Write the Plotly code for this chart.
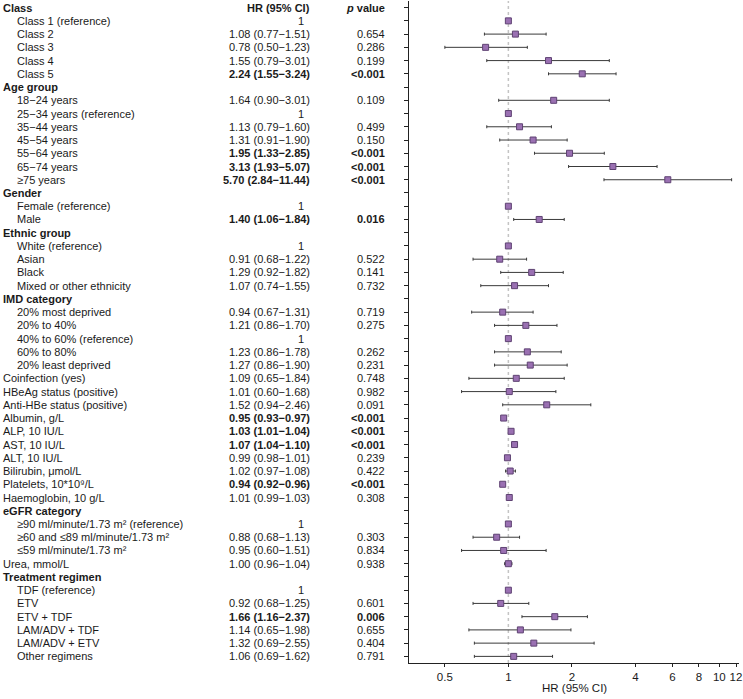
import math
import plotly.graph_objects as go

# ---------------- data ----------------
labels = [
    "Class", "Class 1 (reference)", "Class 2", "Class 3", "Class 4", "Class 5",
    "Age group", "18−24 years", "25−34 years (reference)", "35−44 years", "45−54 years",
    "55−64 years", "65−74 years", "≥75 years",
    "Gender", "Female (reference)", "Male",
    "Ethnic group", "White (reference)", "Asian", "Black", "Mixed or other ethnicity",
    "IMD category", "20% most deprived", "20% to 40%", "40% to 60% (reference)", "60% to 80%",
    "20% least deprived",
    "Coinfection (yes)", "HBeAg status (positive)", "Anti-HBe status (positive)",
    "Albumin, g/L", "ALP, 10 IU/L", "AST, 10 IU/L", "ALT, 10 IU/L", "Bilirubin, μmol/L",
    "Platelets, 10*10⁹/L", "Haemoglobin, 10 g/L",
    "eGFR category", "≥90 ml/minute/1.73 m² (reference)", "≥60 and ≤89 ml/minute/1.73 m²",
    "≤59 ml/minute/1.73 m²", "Urea, mmol/L",
    "Treatment regimen", "TDF (reference)", "ETV", "ETV + TDF", "LAM/ADV + TDF",
    "LAM/ADV + ETV", "Other regimens",
]
# row kind: h = header, i = indented item, n = non-indented item
kinds = [
    "h", "i", "i", "i", "i", "i",
    "h", "i", "i", "i", "i", "i", "i", "i",
    "h", "i", "i",
    "h", "i", "i", "i", "i",
    "h", "i", "i", "i", "i", "i",
    "n", "n", "n", "n", "n", "n", "n", "n", "n", "n",
    "h", "i", "i", "i", "n",
    "h", "i", "i", "i", "i", "i", "i",
]
hr = [
    None, 1, 1.08, 0.78, 1.55, 2.24,
    None, 1.64, 1, 1.13, 1.31, 1.95, 3.13, 5.70,
    None, 1, 1.40,
    None, 1, 0.91, 1.29, 1.07,
    None, 0.94, 1.21, 1, 1.23, 1.27,
    1.09, 1.01, 1.52, 0.95, 1.03, 1.07, 0.99, 1.02, 0.94, 1.01,
    None, 1, 0.88, 0.95, 1.00,
    None, 1, 0.92, 1.66, 1.14, 1.32, 1.06,
]
ci_lo = [
    None, None, 0.77, 0.50, 0.79, 1.55,
    None, 0.90, None, 0.79, 0.91, 1.33, 1.93, 2.84,
    None, None, 1.06,
    None, None, 0.68, 0.92, 0.74,
    None, 0.67, 0.86, None, 0.86, 0.86,
    0.65, 0.60, 0.94, 0.93, 1.01, 1.04, 0.98, 0.97, 0.92, 0.99,
    None, None, 0.68, 0.60, 0.96,
    None, None, 0.68, 1.16, 0.65, 0.69, 0.69,
]
ci_hi = [
    None, None, 1.51, 1.23, 3.01, 3.24,
    None, 3.01, None, 1.60, 1.90, 2.85, 5.07, 11.44,
    None, None, 1.84,
    None, None, 1.22, 1.82, 1.55,
    None, 1.31, 1.70, None, 1.78, 1.90,
    1.84, 1.68, 2.46, 0.97, 1.04, 1.10, 1.01, 1.08, 0.96, 1.03,
    None, None, 1.13, 1.51, 1.04,
    None, None, 1.25, 2.37, 1.98, 2.55, 1.62,
]
p_values = [
    "", "", "0.654", "0.286", "0.199", "<0.001",
    "", "0.109", "", "0.499", "0.150", "<0.001", "<0.001", "<0.001",
    "", "", "0.016",
    "", "", "0.522", "0.141", "0.732",
    "", "0.719", "0.275", "", "0.262", "0.231",
    "0.748", "0.982", "0.091", "<0.001", "<0.001", "<0.001", "0.239", "0.422", "<0.001", "0.308",
    "", "", "0.303", "0.834", "0.938",
    "", "", "0.601", "0.006", "0.655", "0.404", "0.791",
]
x_ticks = [0.5, 1, 2, 4, 6, 8, 10, 12]
x_tick_text = ["0.5", "1", "2", "4", "6", "8", "10", "12"]

# ---------------- layout geometry ----------------
W, H = 743, 699
ML, MR, MT, MB = 409, 4, 1, 36
PW = W - ML - MR
PH = H - MT - MB
FONT = "Liberation Sans, Arial, sans-serif"
TXT = "#1a1a1a"

def px_to_paper(px):
    return (px - ML) / PW

def py_to_paper(py):
    return (H - MB - py) / PH

n = len(labels)
rows = list(range(1, n + 1))

fig = go.Figure()

# error bars + markers for rows with an estimate
xs, ys, ep, em = [], [], [], []
for r, h, lo, hi in zip(rows, hr, ci_lo, ci_hi):
    if h is None:
        continue
    xs.append(h)
    ys.append(r)
    ep.append((hi - h) if hi is not None else 0)
    em.append((h - lo) if lo is not None else 0)

fig.add_trace(go.Scatter(
    x=xs, y=ys, mode="markers",
    marker=dict(symbol="square", size=6, color="#9a70b2",
                line=dict(color="#5e4272", width=1)),
    error_x=dict(type="data", symmetric=False, array=ep, arrayminus=em,
                 color="#3a3a3a", thickness=1, width=1.5),
    hoverinfo="skip", showlegend=False,
))

# reference dashed line at HR = 1
fig.add_shape(type="line", xref="x", yref="paper", x0=1, x1=1, y0=0, y1=1,
              line=dict(color="#c4c4c4", width=1.5, dash="3px,3px"), layer="below")

annotations = []
def add_text(px, row, text, anchor, bold=False):
    t = f"<b>{text}</b>" if bold else text
    annotations.append(dict(
        xref="paper", yref="y", x=px_to_paper(px), y=row, text=t,
        xanchor=anchor, yanchor="middle", showarrow=False,
        font=dict(family=FONT, size=11, color=TXT),
    ))

# column headers on first row
add_text(312, 1, "HR (95% CI)", "right", bold=True)
add_text(387, 1, "<i>p</i> value", "right", bold=True)

for r, lab, k, h, lo, hi, p in zip(rows, labels, kinds, hr, ci_lo, ci_hi, p_values):
    sig = p.startswith("<") or (p != "" and float(p) < 0.05)
    if k == "h":
        add_text(1, r, lab, "left", bold=True)
        continue
    add_text(15 if k == "i" else 1, r, lab, "left")
    if h is None:
        continue
    if lo is None:
        add_text(301, r, "1", "center")
    else:
        add_text(312, r, f"{h:.2f} ({lo:.2f}−{hi:.2f})", "right", bold=sig)
        add_text(387, r, p, "right", bold=sig)

# x-axis title
annotations.append(dict(
    xref="paper", yref="paper", x=0.5, y=py_to_paper(688), text="HR (95% CI)",
    xanchor="center", yanchor="middle", showarrow=False, borderpad=0,
    font=dict(family=FONT, size=11.5, color=TXT),
))

fig.update_layout(
    width=W, height=H,
    margin=dict(l=ML, r=MR, t=MT, b=MB, pad=0),
    paper_bgcolor="white", plot_bgcolor="white",
    annotations=annotations,
    font=dict(family=FONT, size=12, color=TXT),
    xaxis=dict(
        type="log", range=[math.log10(0.338), math.log10(12.4)],
        tickvals=x_ticks, ticktext=x_tick_text,
        showgrid=False, zeroline=False,
        showline=True, linecolor="#222", linewidth=1,
        ticks="outside", ticklen=3, tickcolor="#222",
        ticklabeloverflow="allow",
        tickfont=dict(family=FONT, size=11.5, color=TXT),
    ),
    yaxis=dict(
        range=[n + 0.5, 0.5], tickvals=rows, showticklabels=False,
        showgrid=False, zeroline=False,
        showline=True, linecolor="#222", linewidth=1,
        ticks="outside", ticklen=4, tickcolor="#222",
    ),
)

# remove the browser's default page margin so the figure sits at (0, 0)
fig.write_html(
    "out.html",
    config={"displayModeBar": False},
    post_script="document.body.style.margin='0';document.body.style.overflow='hidden';",
)
